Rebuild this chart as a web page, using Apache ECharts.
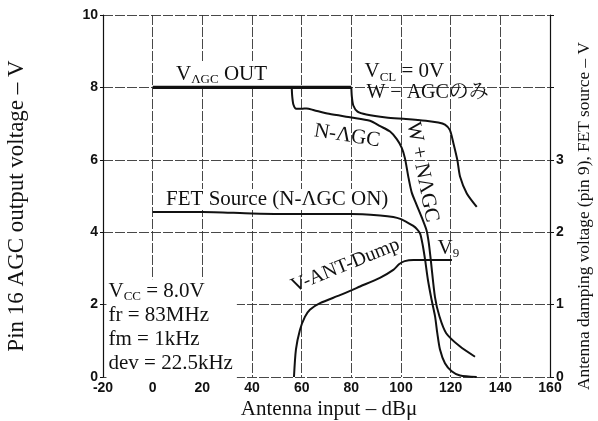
<!DOCTYPE html>
<html>
<head>
<meta charset="utf-8">
<script src="https://cdn.jsdelivr.net/npm/echarts@6/dist/echarts.min.js"></script>
<style>
  html, body { margin: 0; padding: 0; background: #fff; }
  #chart { width: 598px; height: 421px; }
</style>
</head>
<body>
<div id="chart"></div>
<script>
// Tick labels
const xTickLabels = ['-20', '0', '20', '40', '60', '80', '100', '120', '140', '160'];
const leftTickLabels = ['0', '2', '4', '6', '8', '10'];
const rightTickLabels = ['0', '1', '2', '3'];

// Pin 16 AGC output (left axis, V) vs antenna input (dBμ)
const vagcOut = [[0, 8], [80, 8]];
const nAgc = [
  [56, 8], [56.2, 7.75], [56.7, 7.52], [57.8, 7.41], [60, 7.41], [62, 7.42], [65, 7.37],
  [71, 7.27], [80, 7.17], [87.5, 7.08], [91.6, 6.93], [95.6, 6.78], [98.3, 6.57],
  [100.3, 6.33], [101.6, 6.04], [102.9, 5.55], [104.3, 5.1], [106.2, 4.77], [108.4, 4.4],
  [110.3, 4.05], [111.2, 3.7], [112, 3.23], [113.7, 2.2], [115.5, 1.67], [118.2, 1.21],
  [123.8, 0.84], [129.8, 0.56]
];
const wAgcOnly = [
  [80, 8], [80.2, 7.75], [80.8, 7.5], [82.5, 7.33], [86, 7.25], [94, 7.17], [102, 7.13],
  [110, 7.08], [115, 7.03], [117.7, 6.97], [119.7, 6.82], [121.1, 6.46], [122.7, 5.99],
  [123.8, 5.53], [126.5, 5.07], [130.5, 4.7]
];

// FET source and antenna damping voltage (right axis, V)
const fetSource = [
  [0, 2.28], [20, 2.28], [40, 2.26], [60, 2.25], [80, 2.25], [91.6, 2.23], [96.9, 2.21],
  [100, 2.18], [102.3, 2.14], [104.8, 2.09], [106.5, 2.04], [107.7, 1.98], [108.7, 1.83],
  [109.7, 1.62], [110.8, 1.35], [112.3, 1.07], [113.7, 0.84], [114.6, 0.61], [115.7, 0.38],
  [117.7, 0.19], [120.4, 0.08], [123.8, 0.02], [130.5, 0]
];
const antDump = [
  [56.9, 0], [57.7, 0.38], [59.3, 0.65], [61.3, 0.83], [63.3, 0.93], [67.4, 1.02],
  [75.4, 1.13], [83.5, 1.25], [91.5, 1.37], [96.9, 1.48], [99.3, 1.56], [101.5, 1.6],
  [105, 1.615], [120.5, 1.615]
];

const SERIF = "'Liberation Serif', 'Times New Roman', 'Noto Serif CJK JP', 'Noto Sans CJK JP', serif";
const SANS = "'Liberation Sans', Arial, sans-serif";
const INK = '#111';

const grid = { left: 103, right: 48, top: 15, bottom: 44 };
const gridLine = { color: '#333', width: 0.9, type: [10, 2] };

function lineSeries(name, data, yAxisIndex, width) {
  return {
    name, type: 'line', data, yAxisIndex,
    showSymbol: false, smooth: 0.25, z: 5,
    lineStyle: { color: INK, width: width || 2 },
    emphasis: { disabled: true }, silent: true, animation: false
  };
}

const option = {
  animation: false,
  backgroundColor: '#fff',
  grid,
  xAxis: {
    type: 'value', min: -20, max: 160, interval: 20,
    axisLine: { show: false },
    axisTick: { show: false },
    axisLabel: {
      margin: 4, color: INK, fontFamily: SANS, fontWeight: 'bold', fontSize: 14,
      formatter: (v) => xTickLabels[Math.round((v + 20) / 20)]
    },
    splitLine: { show: true, lineStyle: gridLine }
  },
  yAxis: [
    {
      type: 'value', min: 0, max: 10, interval: 2,
      axisLine: { show: true, onZero: false, lineStyle: { color: INK, width: 1.2 } },
      axisTick: { show: true, length: 3, lineStyle: { color: INK } },
      axisLabel: {
        margin: 5, color: INK, fontFamily: SANS, fontWeight: 'bold', fontSize: 14,
        formatter: (v) => leftTickLabels[Math.round(v / 2)]
      },
      splitLine: { show: true, lineStyle: gridLine }
    },
    {
      type: 'value', min: 0, max: 5, interval: 1, position: 'right',
      axisLine: { show: true, onZero: false, lineStyle: { color: INK, width: 1.2 } },
      axisTick: { show: true, length: 4, lineStyle: { color: INK } },
      axisLabel: {
        margin: 6, color: INK, fontFamily: SANS, fontWeight: 'bold', fontSize: 14,
        formatter: (v) => (v < rightTickLabels.length ? rightTickLabels[v] : '')
      },
      splitLine: { show: false }
    }
  ],
  series: [
    lineSeries('V_AGC OUT', vagcOut, 0, 3.4),
    lineSeries('N-AGC', nAgc, 0, 2),
    lineSeries('W-AGC', wAgcOnly, 0, 2),
    lineSeries('FET Source', fetSource, 1, 2),
    lineSeries('V-ANT-Dump', antDump, 1, 2)
  ]
};

const chart = echarts.init(document.getElementById('chart'), null, { renderer: 'canvas' });
chart.setOption(option);

// Place annotations from data coordinates on the left scale
function at(x, y) { return chart.convertToPixel({ seriesIndex: 0 }, [x, y]); }

const F = 21;
const subRich = {
  m: { fontSize: F, fontFamily: SERIF, color: INK, lineHeight: 24 },
  s: { fontSize: 13, fontFamily: SERIF, color: INK, lineHeight: 24, verticalAlign: 'bottom' }
};

function label(x, y, text, opts) {
  const p = at(x, y);
  opts = opts || {};
  return {
    type: 'text', x: p[0], y: p[1], z: 3, silent: true,
    rotation: (opts.rot || 0) * Math.PI / 180,
    style: Object.assign({
      text, fill: INK, fontSize: F, fontFamily: SERIF,
      align: opts.align || 'left', textAlign: opts.align || 'left',
      verticalAlign: opts.va || 'middle', textVerticalAlign: opts.va || 'middle',
      rich: subRich
    }, opts.style || {})
  };
}

const annotations = [
  label(8.6, 8.36, '{m|V}{s|ΛGC}{m| OUT}', { style: { backgroundColor: '#fff', padding: [0, 2, 0, 2] } }),
  label(85.3, 8.43, '{m|V}{s|CL}{m| = 0V}'),
  label(86.1, 7.84, 'W − AGCのみ', { style: { fontSize: 20 } }),
  label(78.3, 6.66, 'N-ΛGC', { align: 'center', rot: -9 }),
  label(108.6, 5.66, 'W + NΛGC', { align: 'center', rot: -79 }),
  label(4.6, 4.9, 'FET Source (N-ΛGC ON)', { style: { backgroundColor: '#fff', padding: [0, 2, 0, 2] } }),
  label(77.6, 3.08, 'V-ANT-Dump', { align: 'center', rot: 22, style: { fontSize: 20 } }),
  label(114.7, 3.56, '{m|V}{s|9}'),
  label(-18.6, 2.7,
    '{m|V}{s|CC}{m| = 8.0V}\n{m|fr = 83MHz}\n{m|fm = 1kHz}\n{m|dev = 22.5kHz}',
    { va: 'top', style: { backgroundColor: '#fff', padding: [0, 4, 3, 2] } })
];

const titles = [
  {
    type: 'text', x: 17, y: 206, rotation: Math.PI / 2, silent: true,
    style: { text: 'Pin 16 AGC output voltage – V', fill: INK, fontSize: 23, fontFamily: SERIF,
      align: 'center', textAlign: 'center', verticalAlign: 'middle', textVerticalAlign: 'middle' }
  },
  {
    type: 'text', x: 584, y: 216, rotation: Math.PI / 2, silent: true,
    style: { text: 'Antenna damping voltage (pin 9), FET source – V', fill: INK, fontSize: 17.3, fontFamily: SERIF,
      align: 'center', textAlign: 'center', verticalAlign: 'middle', textVerticalAlign: 'middle' }
  },
  {
    type: 'text', x: 329, y: 409, silent: true,
    style: { text: 'Antenna input – dBμ', fill: INK, fontSize: 21, fontFamily: SERIF,
      align: 'center', textAlign: 'center', verticalAlign: 'middle', textVerticalAlign: 'middle' }
  }
];

chart.setOption({ graphic: { elements: annotations.concat(titles) } });
</script>
</body>
</html>
